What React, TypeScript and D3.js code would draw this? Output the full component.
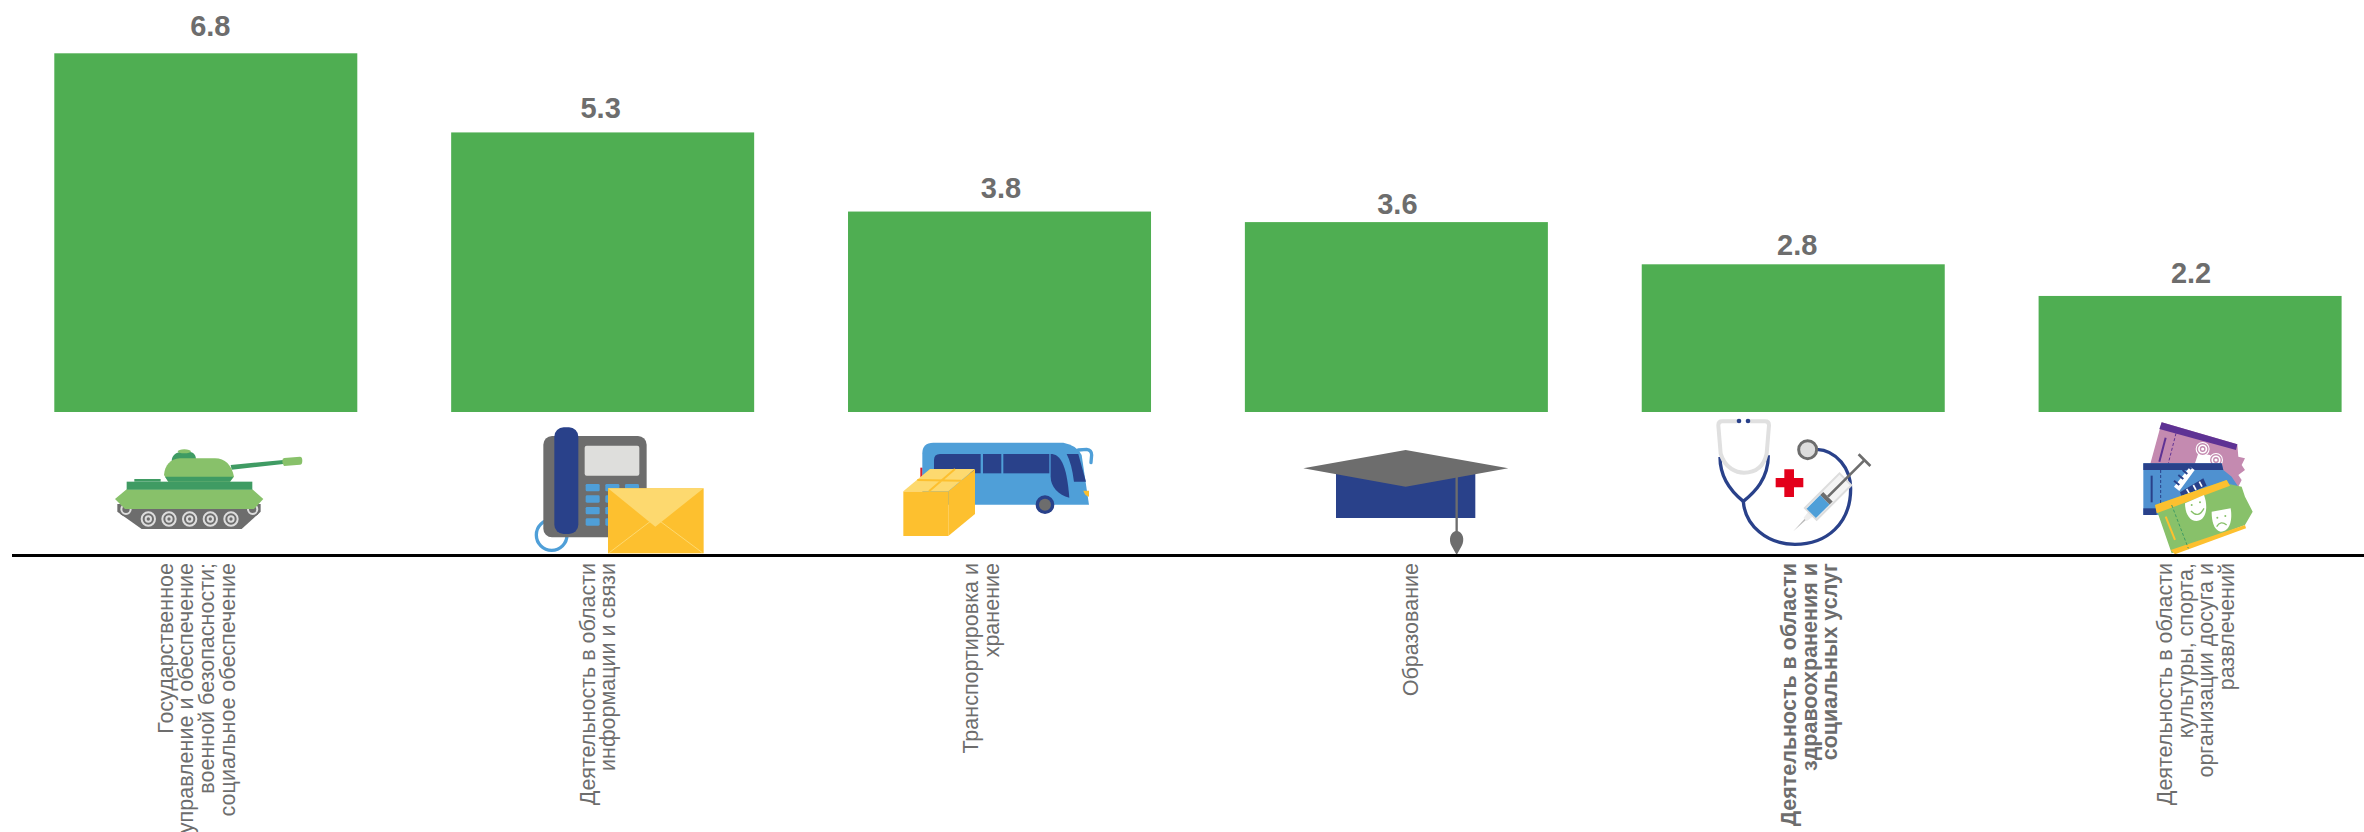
import React from "react";
import * as d3 from "d3";

const categories = ["gov", "info", "transport", "edu", "health", "culture"];
const values = [6.8, 5.3, 3.8, 3.6, 2.8, 2.2];
const valueLabels = ["6.8", "5.3", "3.8", "3.6", "2.8", "2.2"];
const labelLines: string[][] = [
  ["Государственное", "управление и обеспечение", "военной безопасности;", "социальное обеспечение"],
  ["Деятельность в области", "информации и связи"],
  ["Транспортировка и", "хранение"],
  ["Образование"],
  ["Деятельность в области", "здравоохранения и", "социальных услуг"],
  ["Деятельность в области", "культуры, спорта,", "организации досуга и", "развлечений"],
];
const boldLabel = [false, false, false, false, true, false];

const labelShift = [-40, -15, -28.5, 15, -4, -25];
const valueDx = [4.5, -2, 1.5, 1, 4, 1];
const valueDy = [-17, -14, -14, -8, -9.5, -12.5];
const FONT = "'Liberation Sans', Arial, sans-serif";
const GREY = "#6d6d6d", NAVY = "#29418a", BLUE = "#4f9fd8", GOLD = "#fdc02f", PALE = "#fdd96f", LEAF = "#88c16a", PINE = "#3f9b63";

const Tank = () => (
  <g transform="translate(100,430) scale(0.3333)">
    <circle cx={78} cy={238} r={22} fill={GREY} />
    <circle cx={458} cy={238} r={22} fill={GREY} />
    <path d="M52 222 L482 222 L482 245 L425 297 L125 297 L52 245 Z" fill={GREY} />
    {[78, 458].map((x) => <circle key={x} cx={x} cy={238} r={14} fill="none" stroke="#ddd" strokeWidth={6} />)}
    {[145, 207, 269, 331, 393].map((x) => (
      <g key={x}>
        <circle cx={x} cy={267} r={20} fill="none" stroke="#ddd" strokeWidth={6} />
        <circle cx={x} cy={267} r={8} fill="none" stroke="#ddd" strokeWidth={6} />
      </g>
    ))}
    <path d="M45 207 L80 178 L457 178 L490 207 L462 237 L75 237 Z" fill={LEAF} />
    <rect x={80} y={155} width={377} height={24} fill={PINE} />
    <rect x={103} y={147} width={79} height={8} fill={PINE} />
    <path d="M215 95 C215 72 232 68 240 66 L270 66 C282 68 288 75 288 90 Z" fill={PINE} />
    <ellipse cx={253} cy={64} rx={20} ry={6} fill={LEAF} />
    <path d="M392 105 L550 90 L550 102 L395 119 Z" fill={PINE} />
    <path d="M553 84 L600 80 Q607 80 607 92 Q607 104 600 104 L552 108 Q546 100 547 92 Q547 85 553 84 Z" fill={LEAF} />
    <path d="M192 135 C195 105 210 88 240 85 L345 85 C375 85 395 105 402 140 L390 155 L205 155 Z" fill={LEAF} />
    <path d="M195 140 L400 140 L390 155 L205 155 Z" fill={PINE} />
  </g>
);

const Phone = () => (
  <g transform="translate(520,420) scale(0.3333)">
    <circle cx={95} cy={345} r={46} fill="none" stroke={BLUE} strokeWidth={10} />
    <rect x={70} y={48} width={310} height={304} rx={26} fill={GREY} />
    <rect x={103} y={22} width={72} height={320} rx={28} fill={NAVY} />
    <rect x={194} y={77} width={164} height={90} rx={6} fill="#dededc" />
    {[197, 256, 315].flatMap((x) => [192, 226, 261, 295].map((y) => (
      <rect key={`${x}-${y}`} x={x} y={y} width={42} height={22} rx={4} fill={BLUE} />
    )))}
    <rect x={264} y={205} width={287} height={195} fill={GOLD} />
    <path d="M264 205 L551 205 L406 320 Z" fill={PALE} />
    <path d="M268 398 L390 305 M547 398 L422 305" stroke={PALE} strokeWidth={3} fill="none" />
  </g>
);

const Bus = () => (
  <g transform="translate(890,430) scale(0.3333)">
    <rect x={91} y={113} width={7} height={28} fill="#d6202f" />
    <path d="M565 60 L590 58 Q605 60 605 75 L603 98" fill="none" stroke={BLUE} strokeWidth={10} strokeLinecap="round" />
    <path d="M97 70 Q97 38 130 38 L520 38 Q560 45 575 75 L597 224 L97 224 Z" fill={BLUE} />
    <path d="M132 90 Q132 72 150 72 L272 72 L272 130 L132 130 Z" fill={NAVY} />
    <rect x={279} y={72} width={55} height={58} fill={NAVY} />
    <rect x={340} y={72} width={138} height={58} fill={NAVY} />
    <path d="M482 72 C510 72 530 100 538 203 C505 195 482 170 482 140 Z" fill={NAVY} />
    <path d="M530 72 L565 72 L588 155 L552 155 Q545 100 530 72 Z" fill={NAVY} />
    <path d="M580 182 L597 182 L597 200 Q585 198 580 182 Z" fill={GOLD} />
    <circle cx={465} cy={224} r={28} fill={NAVY} />
    <circle cx={465} cy={224} r={18} fill={GREY} />
    <rect x={40} y={184} width={135} height={134} fill={GOLD} />
    <path d="M175 184 L255 118 L255 252 L175 318 Z" fill={GOLD} />
    <path d="M40 184 L120 117 L255 117 L175 184 Z" fill={PALE} />
    <path d="M117 184 L195 117 M82 150 L215 152" stroke={GOLD} strokeWidth={6} fill="none" />
  </g>
);

const Cap = () => (
  <g transform="translate(1290,440) scale(0.3333)">
    <rect x={138} y={90} width={418} height={144} fill={NAVY} />
    <path d="M40 85 L347 30 L655 85 L347 140 Z" fill={GREY} />
    <path d="M500 110 L500 275" stroke={GREY} strokeWidth={7} />
    <path d="M500 272 C480 275 475 300 485 318 L500 345 L515 318 C525 300 520 275 500 272 Z" fill={GREY} />
  </g>
);

const Stethoscope = () => (
  <g transform="translate(1700,412) scale(0.3333)">
    <path d="M60 135 C60 200 95 240 130 268 C165 240 205 200 205 130" fill="none" stroke={NAVY} strokeWidth={10} />
    <path d="M130 268 C135 340 200 397 285 397 C380 397 452 335 452 230 C452 170 410 115 350 112" fill="none" stroke={NAVY} strokeWidth={10} />
    <path d="M112 28 L67 28 Q55 28 55 40 L62 125 C75 170 110 182 132 182 C160 182 190 170 200 125 L207 40 Q207 28 195 28 L150 28" fill="none" stroke="#e0e0e0" strokeWidth={12} />
    <circle cx={117} cy={27} r={7} fill={NAVY} />
    <circle cx={144} cy={27} r={7} fill={NAVY} />
    <circle cx={323} cy={113} r={27} fill="#dddddd" stroke={GREY} strokeWidth={9} />
    <path d="M253 172 H282 V198 H310 V226 H282 V255 H253 V226 H227 V198 H253 Z" fill="#e3001b" />
    <g transform="translate(280,358) rotate(-45)">
      <path d="M0 0 L55 -3 L55 3 Z" fill="#bbbbbb" />
      <path d="M50 -7 L74 -10 L74 10 L50 7 Z" fill="#eeeeee" />
      <rect x={74} y={-25} width={147} height={50} fill="#f4f4f4" stroke="#dddddd" strokeWidth={6} />
      <rect x={76} y={-20} width={58} height={40} fill={BLUE} />
      <rect x={134} y={-20} width={13} height={40} fill={GREY} />
      <rect x={147} y={-4} width={155} height={8} fill={GREY} />
      <rect x={298} y={-25} width={8} height={50} fill={GREY} />
    </g>
  </g>
);

const Tickets = () => (
  <g transform="translate(2130,415) scale(0.3333)">
    <path d="M95 22 L322 88 L325 125 L345 130 L335 150 L345 165 L325 180 L335 195 L325 215 L60 150 Z" fill="#c48ab0" />
    <path d="M95 22 L322 88 L318 105 L88 42 Z" fill="#5e3294" />
    <path d="M107 68 L88 140" stroke="#5e3294" strokeWidth={6} />
    <path d="M138 55 L115 145" stroke="#5e3294" strokeWidth={3} strokeDasharray="9 6" />
    <path d="M195 145 L205 115 L240 120 L270 160 L255 180 Z" fill="#ffffff" />
    <path d="M190 145 L260 175" stroke="#c48ab0" strokeWidth={3} />
    {[[218, 102, 21], [258, 135, 21]].map(([x, y, r]) => (
      <g key={x}>
        <circle cx={x} cy={y} r={r} fill="#ffffff" />
        <circle cx={x} cy={y} r={r * 0.75} fill="none" stroke="#c48ab0" strokeWidth={4} />
        <circle cx={x} cy={y} r={r * 0.32} fill="none" stroke="#c48ab0" strokeWidth={4} />
      </g>
    ))}
    <path d="M40 145 L275 145 L280 165 L305 185 L325 215 L250 300 L40 300 Z" fill="#4f91d0" />
    <path d="M40 145 L275 145 L280 165 L40 165 Z" fill={NAVY} />
    <rect x={40} y={280} width={40} height={20} fill={NAVY} />
    <path d="M92 165 L92 280" stroke={NAVY} strokeWidth={3} strokeDasharray="9 6" />
    <path d="M65 182 L65 262" stroke={NAVY} strokeWidth={6} />
    <path d="M132 215 L180 155 L194 165 L148 228 Z" fill="#ffffff" />
    <path d="M145 180 L160 192 M158 165 L172 177 M170 150 L184 162 M132 197 L148 210" stroke={NAVY} strokeWidth={6} />
    <path d="M150 232 L220 190 L230 212 L155 245 Z" fill={NAVY} />
    <path d="M170 222 L178 235 M190 210 L198 225 M208 200 L216 215" stroke="#ffffff" strokeWidth={5} />
    <path d="M75 270 L290 195 L297 207 L335 215 L345 245 L368 290 L345 330 L125 415 Z" fill={LEAF} />
    <path d="M75 270 L290 195 L300 212 L80 295 Z" fill={GOLD} />
    <path d="M345 330 L348 340 L135 418 L122 405 Z" fill={GOLD} />
    <path d="M125 270 L175 400" stroke={PINE} strokeWidth={3} strokeDasharray="9 6" />
    <path d="M107 305 L135 375" stroke={GOLD} strokeWidth={6} />
    <path d="M165 265 L222 240 C235 275 230 315 200 318 C175 318 165 290 165 265 Z" fill="#ffffff" />
    <path d="M183 288 Q205 312 222 280" fill="none" stroke={LEAF} strokeWidth={4} />
    <circle cx={185} cy={270} r={3} fill={LEAF} />
    <circle cx={210} cy={262} r={3} fill={LEAF} />
    <path d="M245 290 L302 280 C308 315 300 350 272 350 C250 345 245 315 245 290 Z" fill="#ffffff" />
    <path d="M260 335 Q272 315 290 330" fill="none" stroke={LEAF} strokeWidth={4} />
    <circle cx={262} cy={308} r={3} fill={LEAF} />
    <circle cx={286} cy={303} r={3} fill={LEAF} />
  </g>
);

const icons = [Tank, Phone, Bus, Cap, Stethoscope, Tickets];

export default function App() {
  const x = d3.scaleBand<string>().domain(categories).range([54.3, 2341.6]).paddingInner(0.2365).paddingOuter(0);
  const y = d3.scaleLinear().domain([0, 6.8]).range([412, 53.3]);
  const lineStep = 20.6;
  return (
    <svg width={2364} height={832} style={{ position: "absolute", left: 0, top: 0, background: "#fff" }} fontFamily={FONT}>
      {categories.map((c, i) => (
        <rect key={c} x={x(c)} y={y(values[i])} width={x.bandwidth()} height={y(0) - y(values[i])} fill="#4fae52" />
      ))}
      {categories.map((c, i) => (
        <text key={c} x={x(c)! + x.bandwidth() / 2 + valueDx[i]} y={y(values[i]) + valueDy[i]} textAnchor="middle" fontSize={29} fontWeight={700} fill={GREY}>
          {valueLabels[i]}
        </text>
      ))}
      {icons.map((Icon, i) => <Icon key={i} />)}
      <line x1={12} x2={2364} y1={555.5} y2={555.5} stroke="#000" strokeWidth={3} />
      {categories.map((c, i) =>
        labelLines[i].map((line, j) => {
          const cx = x(c)! + x.bandwidth() / 2 + labelShift[i] + j * lineStep + 7;
          return (
            <text key={j} transform={`translate(${cx},563) rotate(-90)`} textAnchor="end" fontSize={21.5} fontWeight={boldLabel[i] ? 700 : 400} fill={GREY}>
              {line}
            </text>
          );
        })
      )}
    </svg>
  );
}
